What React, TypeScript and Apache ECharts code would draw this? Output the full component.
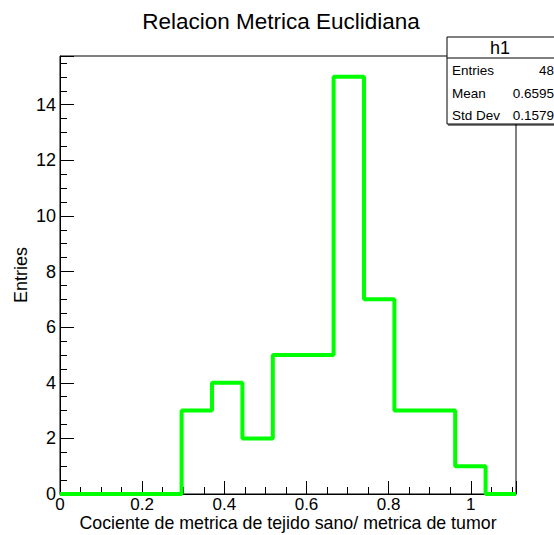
import React, { useEffect, useRef } from "react";
import * as echarts from "echarts";

const binEdges = [0, 0.074, 0.148, 0.222, 0.296, 0.37, 0.444, 0.518, 0.592, 0.666, 0.74, 0.814, 0.888, 0.962, 1.036, 1.11];
const binCounts = [0, 0, 0, 0, 3, 4, 2, 5, 5, 15, 7, 3, 3, 1, 0];
const statLabels = ["Entries", "Mean", "Std Dev"];
const statValues = ["48", "0.6595", "0.1579"];
const title = "Relacion Metrica Euclidiana";
const xTitle = "Cociente de metrica de tejido sano/ metrica de tumor";
const yTitle = "Entries";
const histName = "h1";

const FONT = "Liberation Sans, Arial, Helvetica, sans-serif";

export default function App() {
  const ref = useRef<HTMLDivElement>(null);
  useEffect(() => {
    if (!ref.current) return;
    const chart = echarts.init(ref.current, undefined, { renderer: "svg" });
    const stepData: number[][] = binCounts.map((c, i) => [binEdges[i], c]);
    stepData.push([binEdges[binEdges.length - 1], binCounts[binCounts.length - 1]]);

    const boxLeft = 447;
    const boxTop = 37;
    const rowYs = [70, 93, 115];
    const graphics: any[] = [
      {
        type: "rect",
        shape: { x: boxLeft, y: boxTop, width: 120, height: 87 },
        style: { fill: "#ffffff", stroke: "#000000", lineWidth: 1 },
        z: 100,
      },
      {
        type: "line",
        shape: { x1: boxLeft + 1, y1: 125, x2: 554, y2: 125 },
        style: { stroke: "#000000", lineWidth: 1 },
        z: 101,
      },
      {
        type: "line",
        shape: { x1: boxLeft, y1: 58, x2: 554, y2: 58 },
        style: { stroke: "#000000", lineWidth: 1 },
        z: 101,
      },
      {
        type: "text",
        x: 500,
        y: 48,
        style: { text: histName, font: `18px ${FONT}`, fill: "#000", align: "center", verticalAlign: "middle" },
        z: 102,
      },
    ];
    statLabels.forEach((lab, i) => {
      graphics.push({
        type: "text",
        x: 452,
        y: rowYs[i],
        style: { text: lab, font: `13.5px ${FONT}`, fill: "#000", align: "left", verticalAlign: "middle" },
        z: 102,
      });
      graphics.push({
        type: "text",
        x: 554,
        y: rowYs[i],
        style: { text: statValues[i], font: `13.5px ${FONT}`, fill: "#000", align: "right", verticalAlign: "middle" },
        z: 102,
      });
    });

    chart.setOption({
      animation: false,
      backgroundColor: "#ffffff",
      title: {
        text: title,
        left: 276,
        top: 5,
        textAlign: "center",
        textStyle: { fontFamily: FONT, fontSize: 22.5, fontWeight: "normal", color: "#000" },
      },
      grid: {
        left: 60,
        right: 38,
        top: 56,
        bottom: 41,
        show: true,
        borderColor: "#000",
        borderWidth: 1,
        outerBoundsMode: "none",
        containLabel: false,
      },
      xAxis: {
        type: "value",
        min: 0,
        max: 1.11,
        interval: 0.2,
        name: xTitle,
        nameLocation: "middle",
        nameGap: 20,
        nameMoveOverlap: false,
        nameTextStyle: { fontFamily: FONT, fontSize: 17.8, lineHeight: 17.8, color: "#000" },
        axisLine: { show: true, onZero: false, lineStyle: { color: "#000", width: 1 } },
        axisTick: { show: true, inside: true, length: 13, lineStyle: { color: "#000" } },
        minorTick: { show: true, splitNumber: 4, length: 7, lineStyle: { color: "#000" } },
        splitLine: { show: false },
        axisLabel: {
          fontFamily: FONT,
          fontSize: 17,
          lineHeight: 17,
          color: "#000",
          margin: 2,
          formatter: (v: number) => {
            const r = Math.round(v * 10) / 10;
            if (Math.abs(v - r) > 1e-6 || r > 1.0001) return "";
            return String(r);
          },
        },
      },
      yAxis: {
        type: "value",
        min: 0,
        max: 15.75,
        interval: 2,
        name: yTitle,
        nameLocation: "middle",
        nameGap: 30,
        nameMoveOverlap: false,
        nameTextStyle: { fontFamily: FONT, fontSize: 18, color: "#000" },
        axisLine: { show: true, onZero: false, lineStyle: { color: "#000", width: 1 } },
        axisTick: { show: true, inside: true, length: 14, lineStyle: { color: "#000" } },
        minorTick: { show: true, splitNumber: 4, length: 7, lineStyle: { color: "#000" } },
        splitLine: { show: false },
        axisLabel: {
          fontFamily: FONT,
          fontSize: 18,
          color: "#000",
          margin: 4,
          formatter: (v: number) => (Math.abs(v % 2) > 1e-6 ? "" : String(v)),
        },
      },
      series: [
        {
          type: "line",
          step: "end",
          data: stepData,
          symbol: "none",
          lineStyle: { color: "#00ff00", width: 4 },
          clip: true,
        },
      ],
      graphic: graphics,
    });
    return () => chart.dispose();
  }, []);
  return (
    <div
      ref={ref}
      style={{ position: "fixed", left: 0, top: 0, width: 554, height: 535, background: "#fff" }}
    />
  );
}
